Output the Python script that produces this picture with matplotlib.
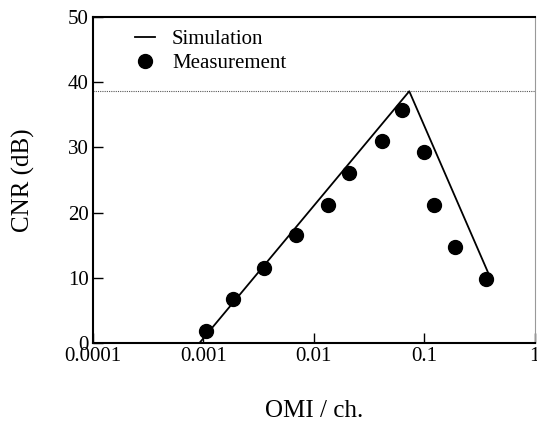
import matplotlib
matplotlib.use("Agg")
import matplotlib.pyplot as plt

# simulation (piecewise line) and measured points
sim_omi = [0.00092, 0.073, 0.41]
sim_cnr = [0.0, 38.6, 9.4]

meas_omi = [0.00106, 0.00185, 0.0035, 0.0069, 0.0134, 0.0207, 0.041, 0.063, 0.100, 0.123, 0.190, 0.36]
meas_cnr = [1.8, 6.8, 11.5, 16.5, 21.2, 26.0, 30.9, 35.7, 29.3, 21.2, 14.8, 9.8]

peak_level = 38.6

xticks = [0.0001, 0.001, 0.01, 0.1, 1]
xticklabels = ["0.0001", "0.001", "0.01", "0.1", "1"]
yticks = [0, 10, 20, 30, 40, 50]

plt.rcParams['font.family'] = ['Liberation Serif', 'DejaVu Serif']

fig = plt.figure(figsize=(5.37, 4.22), dpi=100)
ax = fig.add_axes([0.173, 0.187, 0.823, 0.773])

ax.axhline(peak_level, color='#555555', lw=0.8, ls=(0, (1, 1)))
ax.plot(sim_omi, sim_cnr, color='black', lw=1.3, label='Simulation')
ax.plot(meas_omi, meas_cnr, 'o', color='black', ms=10, label='Measurement')

ax.set_xscale('log')
ax.set_xlim(0.0001, 1)
ax.set_ylim(0, 50)
ax.set_xticks(xticks)
ax.set_xticklabels(xticklabels)
ax.minorticks_off()
ax.set_yticks(yticks)
ax.tick_params(direction='in', length=7, width=1, labelsize=15, pad=3)

for side in ['left', 'bottom', 'top']:
    ax.spines[side].set_linewidth(1.5)
ax.spines['right'].set_linewidth(0.8)
ax.spines['right'].set_color('#999999')

ax.set_xlabel('OMI / ch.', fontsize=18, labelpad=24)
ax.set_ylabel('CNR (dB)', fontsize=18, labelpad=24)

ax.legend(loc='upper left', bbox_to_anchor=(0.066, 1.0), frameon=False,
          fontsize=15, handlelength=1.0, handletextpad=0.8, labelspacing=0.22,
          borderaxespad=0.2)

fig.savefig('out.png', dpi=100)
